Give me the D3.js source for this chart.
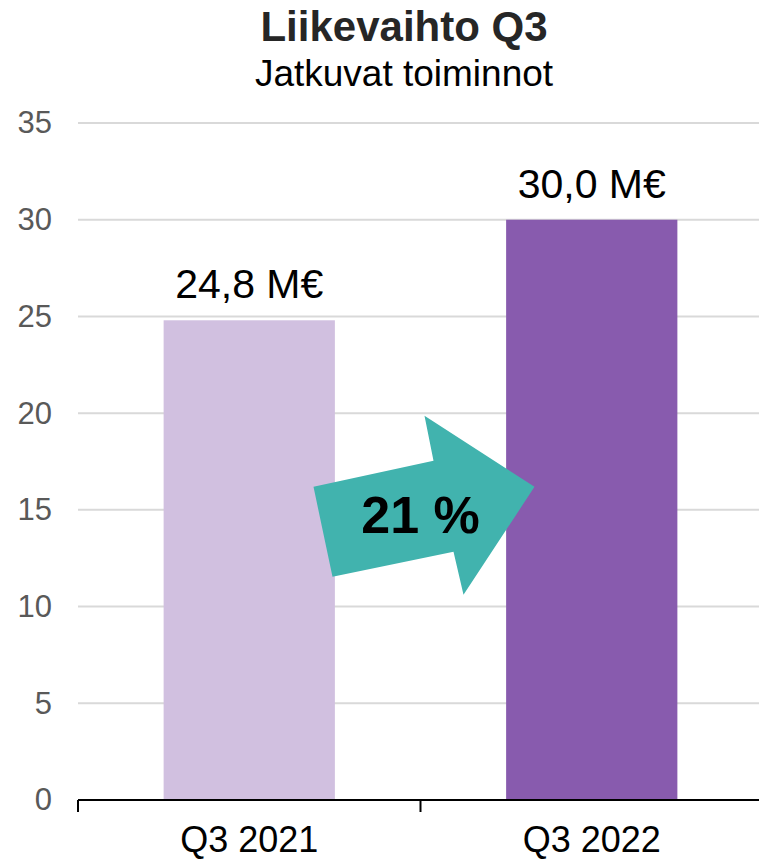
<!DOCTYPE html>
<html><head><meta charset="utf-8">
<script src="https://cdn.jsdelivr.net/npm/d3@7"></script>
<style>body{margin:0;background:#fff}svg{display:block}text{font-family:"Liberation Sans",Arial,sans-serif}</style>
</head><body>
<svg id="c" width="759" height="861"></svg>
<script>
const categories = ["Q3 2021", "Q3 2022"];
const values = [24.8, 30.0];
const valueLabels = ["24,8 M€", "30,0 M€"];
const yTicks = [0, 5, 10, 15, 20, 25, 30, 35];
const colors = ["#D1C0E0", "#885BAE"];
const title = "Liikevaihto Q3";
const subtitle = "Jatkuvat toiminnot";
const changeLabel = "21 %";

const svg = d3.select("#c");
const x = d3.scaleBand().domain(categories).range([78, 763]).paddingInner(0.5).paddingOuter(0.25);
const y = d3.scaleLinear().domain([0, 35]).range([800, 123]);

// title
svg.append("text").attr("x", 404).attr("y", 41).attr("text-anchor", "middle")
  .attr("font-size", 42).attr("font-weight", "bold").attr("fill", "#262626").text(title);
svg.append("text").attr("x", 404).attr("y", 86).attr("text-anchor", "middle")
  .attr("font-size", 37).attr("fill", "#000").text(subtitle);

// gridlines
svg.append("g").selectAll("line").data(yTicks.filter(d => d > 0)).join("line")
  .attr("x1", 78).attr("x2", 763).attr("y1", d => y(d)).attr("y2", d => y(d))
  .attr("stroke", "#D9D9D9").attr("stroke-width", 2);

// y axis labels
const yAxis = d3.axisLeft(y).tickValues(yTicks).tickSize(0).tickPadding(26);
const gy = svg.append("g").attr("transform", "translate(78,0)").call(yAxis);
gy.select(".domain").remove();
gy.selectAll("text").attr("font-size", 31).attr("fill", "#595959").attr("font-family", "Liberation Sans, Arial, sans-serif");

// bars
svg.append("g").selectAll("rect").data(values).join("rect")
  .attr("x", (d, i) => x(categories[i])).attr("width", x.bandwidth())
  .attr("y", d => y(d)).attr("height", d => y(0) - y(d))
  .attr("fill", (d, i) => colors[i]);

// value labels
svg.append("g").selectAll("text").data(values).join("text")
  .attr("x", (d, i) => x(categories[i]) + x.bandwidth() / 2)
  .attr("y", d => y(d) - 22).attr("text-anchor", "middle")
  .attr("font-size", 41).attr("fill", "#000").text((d, i) => valueLabels[i]);

// x axis
const step = x.step();
const bounds = [x.range()[0], x.range()[0] + step];
svg.append("line").attr("x1", 78).attr("x2", 763).attr("y1", y(0)).attr("y2", y(0))
  .attr("stroke", "#000").attr("stroke-width", 2);
svg.append("g").selectAll("line").data(bounds).join("line")
  .attr("x1", d => d).attr("x2", d => d).attr("y1", y(0)).attr("y2", y(0) + 12)
  .attr("stroke", "#000").attr("stroke-width", 2);
svg.append("g").selectAll("text").data(categories).join("text")
  .attr("x", d => x(d) + x.bandwidth() / 2).attr("y", 852).attr("text-anchor", "middle")
  .attr("font-size", 36).attr("fill", "#000").text(d => d);

// arrow annotation between bars
const cx = (x(categories[0]) + x(categories[1]) + x.bandwidth()) / 2;
const cy = y(15);
const arrowShape = [[-107, -23], [13, -49], [4, -94], [114, -23], [43, 85], [33, 42], [-88, 67]];
svg.append("polygon")
  .attr("points", arrowShape.map(p => [cx + p[0], cy + p[1]].join(",")).join(" "))
  .attr("fill", "#41B3AE");
svg.append("text").attr("x", cx).attr("y", cy + 23).attr("text-anchor", "middle")
  .attr("font-size", 52).attr("font-weight", "bold").attr("fill", "#000").text(changeLabel);
</script>
</body></html>
